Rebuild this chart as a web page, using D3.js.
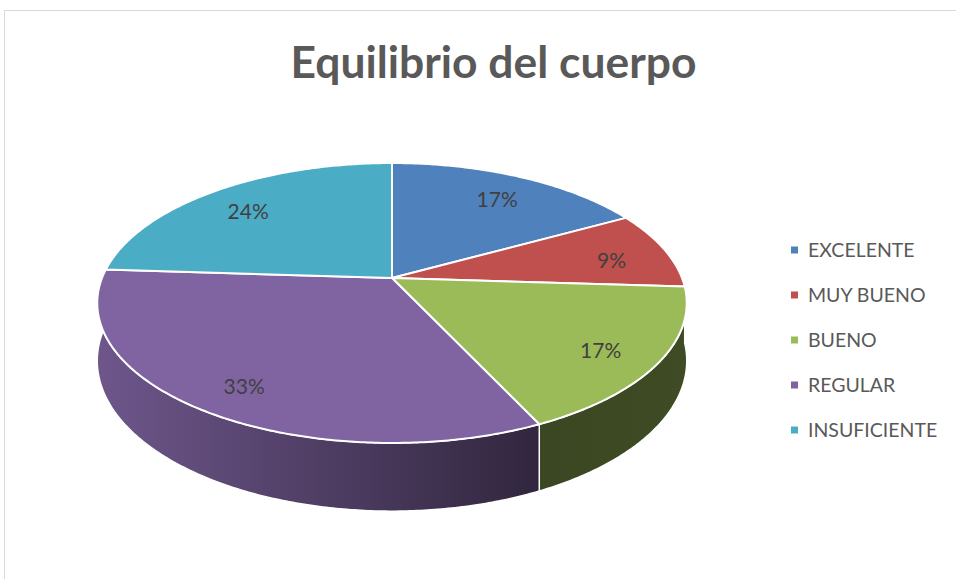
<!DOCTYPE html>
<html>
<head>
<meta charset="utf-8">
<script src="https://cdn.jsdelivr.net/npm/d3@7"></script>
<style>
  body { margin: 0; background: #fff; }
  svg { display: block; font-family: Lato, "Open Sans", sans-serif; }
</style>
</head>
<body>
<svg id="chart"></svg>
<script>
const categories = ['EXCELENTE', 'MUY BUENO', 'BUENO', 'REGULAR', 'INSUFICIENTE'];
const values = [17, 9, 17, 33, 24];
const colors = ['#4f81bd', '#c0504d', '#9bbb59', '#8064a2', '#4bacc6'];

const width = 956, height = 579;

// pie geometry (tilted disk with a bit of perspective)
const cx = 392, cy = 278, rx = 290, ry = 135.5, k = 0.1786, depth = 56;

const svg = d3.select('#chart')
  .attr('width', width)
  .attr('height', height);

// chart frame
svg.append('rect')
  .attr('x', 4.5).attr('y', 10.5)
  .attr('width', 1000).attr('height', 1000)
  .attr('fill', 'none')
  .attr('stroke', '#d9d9d9');

svg.append('text')
  .attr('x', 493.5).attr('y', 78)
  .attr('text-anchor', 'middle')
  .attr('font-size', 43)
  .attr('font-weight', 'bold')
  .attr('fill', '#595959')
  .attr('textLength', 406)
  .attr('lengthAdjust', 'spacingAndGlyphs')
  .text('Equilibrio del cuerpo');

// angle measured clockwise from 12 o'clock, f = fraction of radius
function proj(a, f = 1) {
  const u = Math.sin(a) * f, v = -Math.cos(a) * f;
  const d = 1 - k * v;
  return [cx + rx * u / d, cy + ry * v / d, d];
}

const pie = d3.pie().sort(null).value(d => d.value);
const arcs = pie(categories.map((c, i) => ({ name: c, value: values[i], color: colors[i] })));

function rimPoints(a0, a1) {
  const n = Math.max(2, Math.ceil((a1 - a0) / 0.01));
  return d3.range(n + 1).map(i => a0 + (a1 - a0) * i / n);
}

// horizontal extent for side shading
const xs = d3.range(0, 2 * Math.PI, 0.01).map(a => proj(a)[0]);
const xMin = d3.min(xs), xMax = d3.max(xs);

const defs = svg.append('defs');
const shade = [[0, 0.86], [0.75, 0.38], [1, 0.40]];

arcs.forEach((d, i) => {
  const base = d3.rgb(d.data.color);
  const g = defs.append('linearGradient')
    .attr('id', 'side' + i)
    .attr('gradientUnits', 'userSpaceOnUse')
    .attr('x1', xMin).attr('x2', xMax)
    .attr('y1', 0).attr('y2', 0);
  shade.forEach(([o, f]) => {
    g.append('stop')
      .attr('offset', o)
      .attr('stop-color', d3.rgb(base.r * f, base.g * f, base.b * f).formatHex());
  });
});

const line = d3.line();

// side walls first
svg.append('g').selectAll('path')
  .data(arcs)
  .enter().append('path')
  .attr('d', d => {
    const as = rimPoints(d.startAngle, d.endAngle);
    const top = as.map(a => proj(a).slice(0, 2));
    const bottom = as.slice().reverse().map(a => {
      const p = proj(a);
      return [p[0], p[1] + depth / p[2]];
    });
    return line(top.concat(bottom)) + 'Z';
  })
  .attr('fill', (d, i) => `url(#side${i})`)
  .attr('stroke', '#fff')
  .attr('stroke-width', 1.5)
  .attr('stroke-linejoin', 'round');

// top faces
svg.append('g').selectAll('path')
  .data(arcs)
  .enter().append('path')
  .attr('d', d => {
    const pts = [[cx, cy]].concat(rimPoints(d.startAngle, d.endAngle).map(a => proj(a).slice(0, 2)));
    return line(pts) + 'Z';
  })
  .attr('fill', d => d.data.color)
  .attr('stroke', '#fff')
  .attr('stroke-width', 2)
  .attr('stroke-linejoin', 'round');

// data labels
function labelPos(d) {
  const p = proj((d.startAngle + d.endAngle) / 2, 0.8);
  return [p[0], p[1] + depth * 0.1 / p[2]];
}

svg.append('g').selectAll('text')
  .data(arcs)
  .enter().append('text')
  .attr('x', d => labelPos(d)[0])
  .attr('y', d => labelPos(d)[1])
  .attr('dy', '0.36em')
  .attr('text-anchor', 'middle')
  .attr('font-size', 21)
  .attr('fill', '#404040')
  .text(d => d.data.value + '%');

// legend
const ly = d3.scalePoint().domain(categories).range([250, 430]);
const legend = svg.append('g').selectAll('g')
  .data(categories)
  .enter().append('g')
  .attr('transform', d => `translate(791,${ly(d)})`);

legend.append('rect')
  .attr('x', 0).attr('y', -3.5)
  .attr('width', 7).attr('height', 7)
  .attr('fill', (d, i) => colors[i]);

legend.append('text')
  .attr('x', 17).attr('y', 7)
  .attr('font-size', 19.5)
  .attr('fill', '#595959')
  .text(d => d);
</script>
</body>
</html>
